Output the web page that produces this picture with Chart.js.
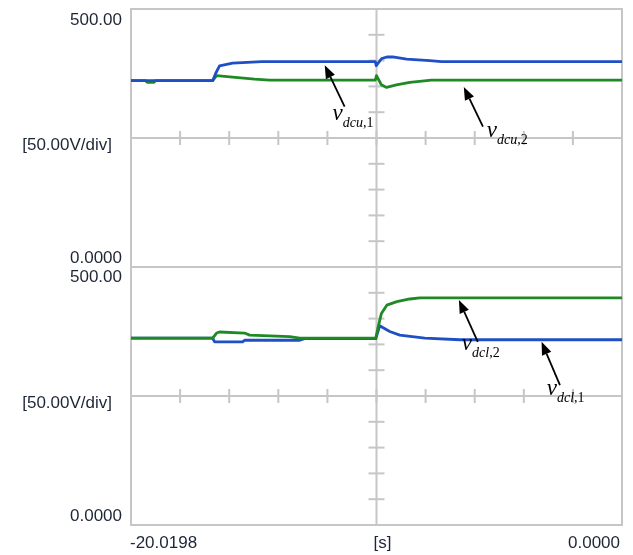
<!DOCTYPE html>
<html lang="en">
<head>
    <meta charset="UTF-8">
    <title>DC capacitor voltages</title>
    <script src="https://cdn.jsdelivr.net/npm/chart.js"></script>
    <style>
        body {
            margin: 0;
            background: #ffffff;
        }
        .wrap {
            position: relative;
            width: 633px;
            height: 555px;
        }
    </style>
</head>
<body>

<div class="wrap">
    <canvas id="scope" width="633" height="555"></canvas>
</div>

<script>
    // time window [s]
    const tStart = -20.0198;
    const tEnd = 0;
    const vMin = 0;
    const vMax = 500;
    const vDiv = 50;

    // upper panel, v_dcu,1 (blue)
    const dcu1T = [-20.0198, -16.69, -16.57, -16.41, -15.88, -14.69, -10.06, -10.02, -9.80, -9.59, -9.35, -8.78, -7.84, -7.36, 0];
    const dcu1V = [361, 361, 375, 390, 395, 398, 398, 390, 404, 407, 407, 403, 400, 398, 398];

    // upper panel, v_dcu,2 (green)
    const dcu2T = [-20.0198, -19.42, -19.36, -19.08, -19.02, -16.69, -16.53, -15.88, -14.98, -14.37, -10.06, -10.01, -9.81, -9.60, -9.20, -8.65, -7.77, 0];
    const dcu2V = [361, 361, 358, 358, 361, 361, 371, 368, 364, 362, 362, 371, 353, 348, 353, 358, 362, 362];

    // lower panel, v_dcl,1 (blue)
    const dcl1T = [-20.0198, -16.69, -16.61, -15.47, -15.39, -13.14, -12.94, -10.04, -9.88, -9.47, -9.06, -8.04, -6.61, 0];
    const dcl1V = [362, 362, 355, 355, 358, 358, 361, 361, 386, 375, 368, 362, 359, 359];

    // lower panel, v_dcl,2 (green)
    const dcl2T = [-20.0198, -16.69, -16.53, -16.41, -15.39, -15.18, -13.55, -13.14, -10.04, -9.96, -9.81, -9.59, -9.18, -8.65, -8.24, 0];
    const dcl2V = [362, 362, 372, 374, 372, 368, 365, 362, 362, 380, 410, 426, 433, 438, 440, 440];

    // axis texts
    const yTopLabel = '500.00';
    const yBottomLabel = '0.0000';
    const yDivLabel = '[50.00V/div]';
    const xLabels = ['-20.0198', '[s]', '0.0000'];

    // arrow annotations (data coordinates)
    const annoSub = ['dcu', 'dcu', 'dcl', 'dcl'];
    const annoIdx = [',1', ',2', ',2', ',1'];
    const annoAxis = ['yTop', 'yTop', 'yBot', 'yBot'];
    const tipT = [-12.12, -6.45, -6.65, -3.28];
    const tipV = [391, 349, 436, 355];
    const tailT = [-11.31, -5.67, -5.88, -2.53];
    const tailV = [311, 272, 355, 271];
    const textT = [-11.80, -5.51, -6.53, -3.07];
    const textV = [285, 252, 339, 252];

    const blue = '#1f4fc4';
    const green = '#1f8a24';
    const gridColor = '#c6c6c6';
    const textColor = '#1e2636';

    function pts(ts, vs) {
        return ts.map((t, i) => ({ x: t, y: vs[i] }));
    }

    function seg(ctx, x1, y1, x2, y2) {
        ctx.beginPath();
        ctx.moveTo(x1, y1);
        ctx.lineTo(x2, y2);
        ctx.stroke();
    }

    // scope frame: borders, centre cross and division ticks
    const scopeFrame = {
        id: 'scopeFrame',
        beforeDatasetsDraw(chart) {
            const { ctx, scales } = chart;
            const x = scales.x;
            const xDiv = (tEnd - tStart) / 10;
            const xm = x.getPixelForValue((tStart + tEnd) / 2);
            ctx.save();
            ctx.strokeStyle = gridColor;
            ctx.lineWidth = 2;
            [scales.yTop, scales.yBot].forEach(y => {
                const t = y.getPixelForValue(vMax);
                const b = y.getPixelForValue(vMin);
                ctx.strokeRect(x.left, t, x.right - x.left, b - t);
                const ym = y.getPixelForValue((vMin + vMax) / 2);
                seg(ctx, x.left, ym, x.right, ym);
                for (let k = 1; k < 10; k++) {
                    const xp = x.getPixelForValue(tStart + k * xDiv);
                    seg(ctx, xp, ym - 7, xp, ym + 7);
                }
                for (let v = vMin; v <= vMax; v += vDiv) {
                    const yp = y.getPixelForValue(v);
                    seg(ctx, xm - 8, yp, xm + 8, yp);
                }
            });
            seg(ctx, xm, scales.yTop.getPixelForValue(vMax), xm, scales.yBot.getPixelForValue(vMin));
            ctx.restore();
        },
        afterDraw(chart) {
            const { ctx, scales } = chart;
            const x = scales.x;
            ctx.save();
            ctx.fillStyle = textColor;
            ctx.font = '17px "Liberation Sans", Arial, sans-serif';
            ctx.textBaseline = 'middle';
            [scales.yTop, scales.yBot].forEach((y, i) => {
                const t = y.getPixelForValue(vMax);
                const b = y.getPixelForValue(vMin);
                const ym = y.getPixelForValue((vMin + vMax) / 2);
                ctx.textAlign = 'right';
                ctx.fillText(yTopLabel, x.left - 9, t + (i === 0 ? 11 : 10));
                ctx.fillText(yDivLabel, x.left - 19, ym + 7);
                ctx.fillText(yBottomLabel, x.left - 9, b - 9);
            });
            const xb = scales.yBot.getPixelForValue(vMin) + 18;
            ctx.textAlign = 'left';
            ctx.fillText(xLabels[0], x.left - 1, xb);
            ctx.textAlign = 'center';
            ctx.fillText(xLabels[1], x.getPixelForValue((tStart + tEnd) / 2) + 6, xb);
            ctx.textAlign = 'right';
            ctx.fillText(xLabels[2], x.right - 2, xb);

            // arrows with signal names
            ctx.strokeStyle = '#000';
            ctx.fillStyle = '#000';
            ctx.lineWidth = 1.8;
            ctx.textBaseline = 'alphabetic';
            ctx.textAlign = 'left';
            for (let i = 0; i < tipT.length; i++) {
                const y = scales[annoAxis[i]];
                const x1 = x.getPixelForValue(tailT[i]), y1 = y.getPixelForValue(tailV[i]);
                const x2 = x.getPixelForValue(tipT[i]), y2 = y.getPixelForValue(tipV[i]);
                const ang = Math.atan2(y2 - y1, x2 - x1);
                const head = 13, half = 5;
                const bx = x2 - head * Math.cos(ang), by = y2 - head * Math.sin(ang);
                seg(ctx, x1, y1, bx, by);
                ctx.beginPath();
                ctx.moveTo(x2, y2);
                ctx.lineTo(bx + half * Math.sin(ang), by - half * Math.cos(ang));
                ctx.lineTo(bx - half * Math.sin(ang), by + half * Math.cos(ang));
                ctx.closePath();
                ctx.fill();

                const lx = x.getPixelForValue(textT[i]);
                const ly = y.getPixelForValue(textV[i]);
                ctx.font = 'italic 23px "Liberation Serif", "Times New Roman", serif';
                ctx.fillText('v', lx, ly);
                let sx = lx + ctx.measureText('v').width;
                ctx.font = 'italic 14px "Liberation Serif", "Times New Roman", serif';
                ctx.fillText(annoSub[i], sx, ly + 7);
                sx += ctx.measureText(annoSub[i]).width;
                ctx.font = '14px "Liberation Serif", "Times New Roman", serif';
                ctx.fillText(annoIdx[i], sx, ly + 7);
            }
            ctx.restore();
        }
    };

    const lineStyle = {
        borderWidth: 2.8,
        borderJoinStyle: 'round',
        pointRadius: 0,
        tension: 0,
        fill: false
    };

    new Chart(document.getElementById('scope').getContext('2d'), {
        type: 'line',
        data: {
            datasets: [
                Object.assign({ label: 'v_dcu,1', data: pts(dcu1T, dcu1V), borderColor: blue, yAxisID: 'yTop' }, lineStyle),
                Object.assign({ label: 'v_dcl,2', data: pts(dcl2T, dcl2V), borderColor: green, yAxisID: 'yBot' }, lineStyle),
                Object.assign({ label: 'v_dcu,2', data: pts(dcu2T, dcu2V), borderColor: green, yAxisID: 'yTop' }, lineStyle),
                Object.assign({ label: 'v_dcl,1', data: pts(dcl1T, dcl1V), borderColor: blue, yAxisID: 'yBot' }, lineStyle)
            ]
        },
        options: {
            responsive: false,
            animation: false,
            layout: {
                padding: { left: 131, right: 11, top: 9, bottom: 30 }
            },
            plugins: {
                legend: { display: false },
                tooltip: { enabled: false }
            },
            scales: {
                x: {
                    type: 'linear',
                    min: tStart,
                    max: tEnd,
                    display: false
                },
                // stacked panels: the scale listed first sits at the bottom
                yBot: {
                    type: 'linear',
                    position: 'left',
                    stack: 'scope',
                    stackWeight: 1,
                    min: vMin,
                    max: vMax,
                    display: false
                },
                yTop: {
                    type: 'linear',
                    position: 'left',
                    stack: 'scope',
                    stackWeight: 1,
                    min: vMin,
                    max: vMax,
                    display: false
                }
            }
        },
        plugins: [scopeFrame]
    });
</script>

</body>
</html>
